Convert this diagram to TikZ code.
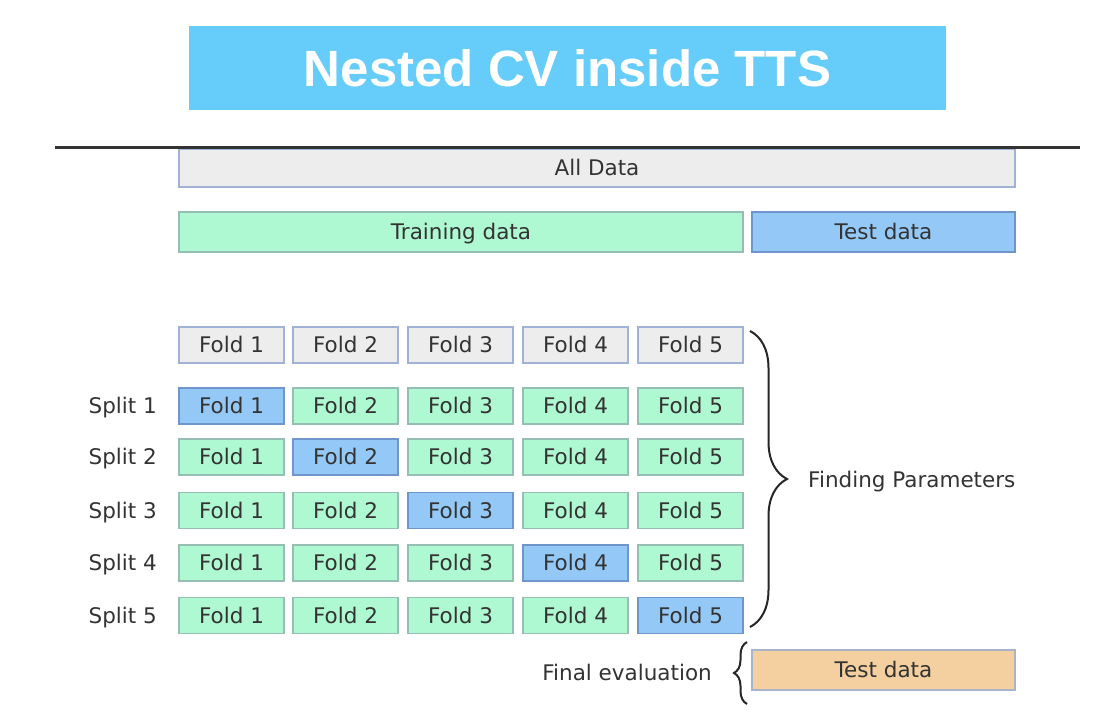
\documentclass[tikz,border=0pt]{standalone}
\usepackage{fontspec}
\setmainfont{DejaVu Sans}
\newfontfamily\titlefont{Liberation Sans}
\usetikzlibrary{decorations.pathreplacing}
\definecolor{titlebg}{RGB}{102,204,250}
\definecolor{greyfill}{RGB}{237,237,237}
\definecolor{greyline}{RGB}{160,178,214}
\definecolor{greenfill}{RGB}{174,249,210}
\definecolor{greenline}{RGB}{150,190,180}
\definecolor{bluefill}{RGB}{148,201,247}
\definecolor{blueline}{RGB}{110,150,205}
\definecolor{orangefill}{RGB}{244,207,160}
\definecolor{orangeline}{RGB}{170,180,200}
\definecolor{txt}{RGB}{51,51,51}
\tikzset{
  box/.style={draw, line width=1.2pt, inner sep=0pt, text=txt, text height=15.6pt, text depth=0pt, font=\fontsize{21.5}{24}\selectfont},
  greybox/.style={box, fill=greyfill, draw=greyline},
  greenbox/.style={box, fill=greenfill, draw=greenline},
  bluebox/.style={box, fill=bluefill, draw=blueline},
  orangebox/.style={box, fill=orangefill, draw=orangeline},
  foldbox/.style={minimum width=105pt, minimum height=36pt},
  lbl/.style={text=txt, inner sep=0pt, text height=15.6pt, text depth=0pt, font=\fontsize{21.5}{24}\selectfont},
  bracestyle/.style={draw=black!85, line width=2pt, decorate}
}
\begin{document}
\begin{tikzpicture}[x=1pt,y=-1pt]
\useasboundingbox[fill=white] (0,0) rectangle (1110,714);
% title
\node[fill=titlebg, minimum width=757pt, minimum height=84pt, inner sep=0pt,
      text=white, font=\titlefont\bfseries\fontsize{51}{56}\selectfont] (title) at (567.5,68) {Nested CV inside TTS};
% all data
\node[greybox, minimum width=836pt, minimum height=38pt] (all) at (597,168) {All Data};
\coordinate (hl) at (55,148);
\coordinate (hr) at (1080,148);
\draw[line width=3pt, draw=txt] (hl) -- (hr);
% training / test
\node[greenbox, minimum width=564pt, minimum height=40pt] (train) at (461,232) {Training data};
\node[bluebox, minimum width=263pt, minimum height=40pt] (test) at (883.5,232) {Test data};
% header folds
\foreach \c [count=\i] in {231.5,345.5,460.5,575.5,690.5}{
  \node[greybox, foldbox] (h\i) at (\c,345) {Fold \i};
}
% splits
\foreach \y [count=\s] in {406,457,510.5,563,615.5}{
  \node[lbl, anchor=east] (sp\s) at (157,\y) {Split \s};
  \foreach \c [count=\i] in {231.5,345.5,460.5,575.5,690.5}{
    \ifnum\i=\s
      \node[bluebox, foldbox] (f\s\i) at (\c,\y) {Fold \i};
    \else
      \node[greenbox, foldbox] (f\s\i) at (\c,\y) {Fold \i};
    \fi
  }
}
% brace finding parameters
\coordinate (b1) at (750,331);
\coordinate (b2) at (750,627);
\draw[bracestyle, decoration={brace, amplitude=37pt}] (b1) -- (b2);
\begin{scope}
\clip (790,440) rectangle (1017,520);
\node[lbl, anchor=west] (find) at (808,480) {Finding Parameters};
\end{scope}
% final evaluation
\node[orangebox, minimum width=263pt, minimum height=40pt] (final) at (883.5,670) {Test data};
\coordinate (c1) at (747,704);
\coordinate (c2) at (747,642);
\draw[bracestyle, decoration={brace, amplitude=13pt}] (c1) -- (c2);
\node[lbl, anchor=east] (fe) at (712,673) {Final evaluation};
\end{tikzpicture}
\end{document}
